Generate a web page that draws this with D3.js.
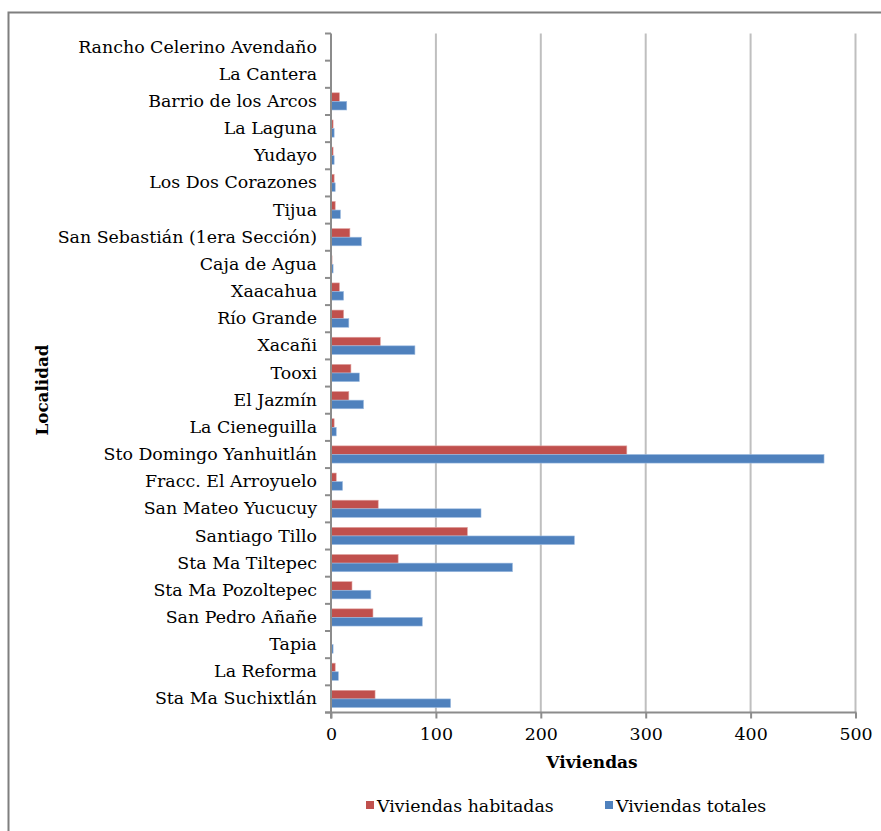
<!DOCTYPE html>
<html>
<head>
<meta charset="utf-8">
<script src="https://cdn.jsdelivr.net/npm/d3@7"></script>
<style>
  html, body { margin: 0; padding: 0; background: #fff; }
  svg text { font-family: "DejaVu Serif", "Liberation Serif", serif; fill: #000; }
</style>
</head>
<body>
<svg id="chart" width="881" height="831"></svg>
<script>
// Localities, top to bottom
const localidades = [
  "Rancho Celerino Avendaño", "La Cantera", "Barrio de los Arcos", "La Laguna",
  "Yudayo", "Los Dos Corazones", "Tijua", "San Sebastián (1era Sección)",
  "Caja de Agua", "Xaacahua", "Río Grande", "Xacañi", "Tooxi", "El Jazmín",
  "La Cieneguilla", "Sto Domingo Yanhuitlán", "Fracc. El Arroyuelo",
  "San Mateo Yucucuy", "Santiago Tillo", "Sta Ma Tiltepec", "Sta Ma Pozoltepec",
  "San Pedro Añañe", "Tapia", "La Reforma", "Sta Ma Suchixtlán"
];
const viviendasHabitadas = [0, 0, 8, 2, 2, 3, 4, 18, 1, 8, 12, 47, 19, 17, 3, 282, 5, 45, 130, 64, 20, 40, 0, 4, 42];
const viviendasTotales   = [0, 0, 15, 3, 3, 4, 9, 29, 2, 12, 17, 80, 27, 31, 5, 470, 11, 143, 232, 173, 38, 87, 2, 7, 114];
const xTicks = [0, 100, 200, 300, 400, 500];
const seriesNames = ["Viviendas habitadas", "Viviendas totales"];
const seriesColors = ["#C0504D", "#4F81BD"];

const svg = d3.select("#chart");
const fs = 17.4;

// outer frame
svg.append("rect").attr("x", 8.5).attr("y", 12.5).attr("width", 900).attr("height", 900)
  .attr("fill", "none").attr("stroke", "#7f7f7f").attr("stroke-width", 2);

const plotLeft = 331, plotRight = 855.5, plotTop = 33.5, plotBottom = 712.5;

const x = d3.scaleLinear().domain([0, 500]).range([plotLeft, plotRight]);
const y = d3.scaleBand().domain(localidades).range([plotTop, plotBottom]).paddingInner(0).paddingOuter(0);

// vertical gridlines
svg.append("g").selectAll("line").data(xTicks.slice(1)).join("line")
  .attr("x1", d => x(d)).attr("x2", d => x(d))
  .attr("y1", plotTop).attr("y2", plotBottom)
  .attr("stroke", "#bfbfbf").attr("stroke-width", 2);

// bars
const barH = 8.6;
const rows = localidades.map((name, i) => ({ name, hab: viviendasHabitadas[i], tot: viviendasTotales[i] }));
const barsG = svg.append("g");
[["hab", 0], ["tot", 1]].forEach(([key, k]) => {
  barsG.append("g").selectAll("rect").data(rows).join("rect")
    .attr("x", x(0))
    .attr("y", d => y(d.name) + y.bandwidth() / 2 - barH + k * barH)
    .attr("width", d => x(d[key]) - x(0))
    .attr("height", barH)
    .attr("fill", seriesColors[k])
    .attr("stroke", k ? "#9dbbe0" : "#e0a3a1")
    .attr("stroke-width", d => d[key] > 0 ? 0.6 : 0);
});

// y axis
const yAxis = svg.append("g").attr("transform", `translate(${plotLeft},0)`)
  .call(d3.axisLeft(y).tickSize(0).tickPadding(14));
yAxis.select(".domain").remove();
yAxis.selectAll("text").attr("font-size", fs).style("font-family", "'DejaVu Serif', serif");
yAxis.append("line").attr("x1", 0).attr("x2", 0).attr("y1", plotTop).attr("y2", plotBottom + 6)
  .attr("stroke", "#8c8c8c").attr("stroke-width", 2);
// category boundary ticks
yAxis.append("g").selectAll("line").data(d3.range(localidades.length + 1)).join("line")
  .attr("x1", -6).attr("x2", 0)
  .attr("y1", i => plotTop + i * y.step()).attr("y2", i => plotTop + i * y.step())
  .attr("stroke", "#8c8c8c").attr("stroke-width", 2);

// x axis
const xAxis = svg.append("g").attr("transform", `translate(0,${plotBottom})`)
  .call(d3.axisBottom(x).tickValues(xTicks).tickSize(6).tickPadding(9));
xAxis.select(".domain").attr("stroke", "#8c8c8c").attr("stroke-width", 2)
  .attr("d", `M${plotLeft - 6},0H${plotRight + 1}`);
xAxis.selectAll(".tick line").attr("stroke", "#8c8c8c").attr("stroke-width", 2);
xAxis.selectAll("text").attr("font-size", fs).style("font-family", "'DejaVu Serif', serif");

// axis titles
svg.append("text").attr("x", 592).attr("y", 768)
  .attr("text-anchor", "middle").attr("font-size", 17).attr("font-weight", "bold")
  .text("Viviendas");
svg.append("text").attr("transform", "translate(48,390) rotate(-90)")
  .attr("text-anchor", "middle").attr("font-size", 16.8).attr("font-weight", "bold")
  .text("Localidad");

// legend
const legendX = [366, 605];
const legend = svg.append("g");
seriesNames.forEach((name, i) => {
  legend.append("rect").attr("x", legendX[i]).attr("y", 801).attr("width", 8).attr("height", 8)
    .attr("fill", seriesColors[i]);
  legend.append("text").attr("x", legendX[i] + 11).attr("y", 812)
    .attr("font-size", fs).text(name);
});
</script>
</body>
</html>
